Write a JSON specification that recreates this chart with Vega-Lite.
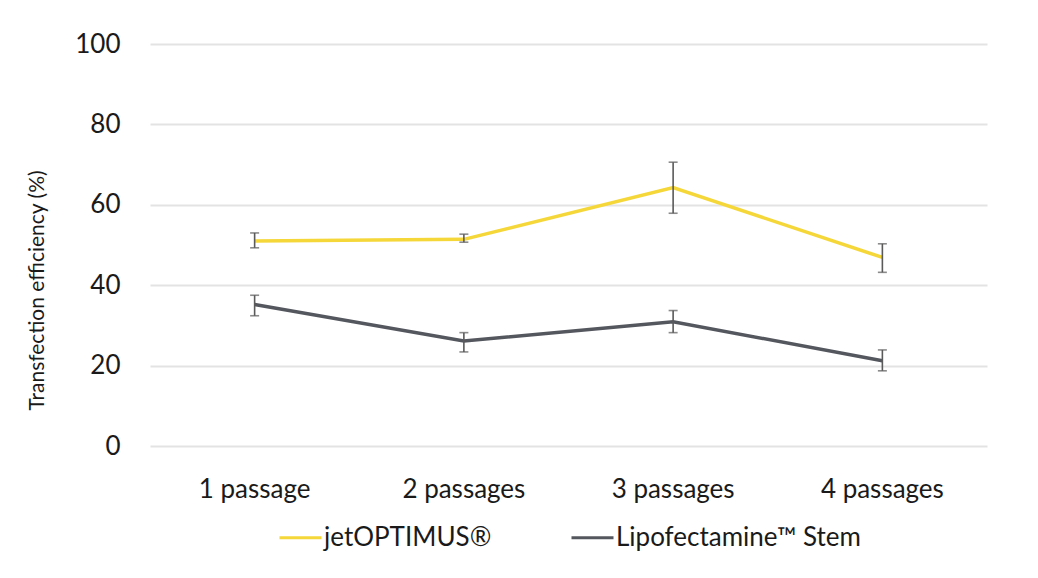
{
  "$schema": "https://vega.github.io/schema/vega-lite/v6.json",
  "autosize": {"type": "none"},
  "width": 837,
  "height": 402,
  "padding": {"left": 150, "top": 44, "right": 51, "bottom": 132},
  "background": "white",
  "config": {
    "font": "Lato",
    "view": {"stroke": null}
  },
  "data": {
    "values": [
      {"Reagent": "jetOPTIMUS®", "Passage": "1 passage", "Efficiency": 51.0, "Low": 49.3, "High": 53.0},
      {"Reagent": "jetOPTIMUS®", "Passage": "2 passages", "Efficiency": 51.4, "Low": 50.7, "High": 52.7},
      {"Reagent": "jetOPTIMUS®", "Passage": "3 passages", "Efficiency": 64.3, "Low": 57.9, "High": 70.6},
      {"Reagent": "jetOPTIMUS®", "Passage": "4 passages", "Efficiency": 46.9, "Low": 43.2, "High": 50.3},
      {"Reagent": "Lipofectamine™ Stem", "Passage": "1 passage", "Efficiency": 35.2, "Low": 32.4, "High": 37.5},
      {"Reagent": "Lipofectamine™ Stem", "Passage": "2 passages", "Efficiency": 26.1, "Low": 23.4, "High": 28.2},
      {"Reagent": "Lipofectamine™ Stem", "Passage": "3 passages", "Efficiency": 30.9, "Low": 28.2, "High": 33.7},
      {"Reagent": "Lipofectamine™ Stem", "Passage": "4 passages", "Efficiency": 21.2, "Low": 18.7, "High": 23.9}
    ]
  },
  "encoding": {
    "x": {
      "field": "Passage",
      "type": "ordinal",
      "sort": ["1 passage", "2 passages", "3 passages", "4 passages"],
      "scale": {"type": "band", "paddingInner": 0, "paddingOuter": 0},
      "title": null,
      "axis": {
        "labelAngle": 0,
        "labelFontSize": 26,
        "labelColor": "#1a1a1a",
        "labelPadding": 30,
        "ticks": false,
        "domain": false,
        "grid": false
      }
    }
  },
  "layer": [
    {
      "mark": {"type": "line", "strokeWidth": 3.5},
      "encoding": {
        "y": {
          "field": "Efficiency",
          "type": "quantitative",
          "scale": {"domain": [0, 100]},
          "title": "Transfection efficiency (%)",
          "axis": {
            "values": [0, 20, 40, 60, 80, 100],
            "labelFontSize": 26,
            "labelColor": "#1a1a1a",
            "labelPadding": 30,
            "titleFontSize": 21,
            "titleFontWeight": "normal",
            "titleColor": "#1a1a1a",
            "titlePadding": 27,
            "titleY": 246,
            "ticks": false,
            "domain": false,
            "gridColor": "#e3e3e3",
            "gridWidth": 2
          }
        },
        "color": {
          "field": "Reagent",
          "type": "nominal",
          "scale": {
            "domain": ["jetOPTIMUS®", "Lipofectamine™ Stem"],
            "range": ["#f5d73a", "#55575f"]
          },
          "legend": {
            "title": null,
            "orient": "none",
            "direction": "horizontal",
            "legendX": 128,
            "legendY": 471,
            "symbolType": "stroke",
            "symbolSize": 1764,
            "symbolStrokeWidth": 3,
            "labelFontSize": 26,
            "labelColor": "#1a1a1a",
            "labelOffset": 1,
            "labelLimit": 600,
            "columnPadding": 73
          }
        }
      }
    },
    {
      "mark": {"type": "rule", "color": "#5a5a5a", "strokeWidth": 1.6},
      "encoding": {
        "y": {"field": "Low", "type": "quantitative"},
        "y2": {"field": "High"}
      }
    },
    {
      "mark": {"type": "tick", "color": "#5a5a5a", "thickness": 1.6, "size": 9, "orient": "horizontal"},
      "encoding": {
        "y": {"field": "Low", "type": "quantitative"}
      }
    },
    {
      "mark": {"type": "tick", "color": "#5a5a5a", "thickness": 1.6, "size": 9, "orient": "horizontal"},
      "encoding": {
        "y": {"field": "High", "type": "quantitative"}
      }
    }
  ]
}
